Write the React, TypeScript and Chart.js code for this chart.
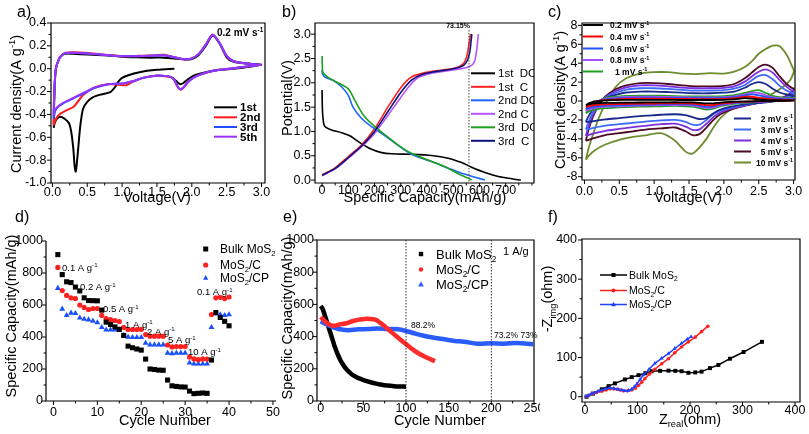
import React, { useEffect, useRef } from "react";
import { Chart, registerables } from "chart.js";

Chart.register(...registerables);

const FONT = '"Liberation Sans", Arial, Helvetica, sans-serif';

// ================= a) CV, 0.2 mV/s =================
const aCycleLabels = ["1st", "2nd", "3rd", "5th"];
const aColors = ["#000000", "#ff1a1a", "#1f4fff", "#9933ff"];
const a1V = [1.75, 1.5, 1.25, 1.1, 1.0, 0.95, 0.9, 0.83, 0.7, 0.58, 0.5, 0.44, 0.4, 0.37, 0.35, 0.335, 0.32, 0.3, 0.27, 0.24, 0.18, 0.11, 0.06, 0.03, 0.02,
  0.03, 0.05, 0.1, 0.15, 0.2, 0.3, 0.5, 0.8, 1.0, 1.2, 1.4, 1.6, 1.75, 1.9, 2.0, 2.1, 2.2, 2.3, 2.4, 2.5, 2.6, 2.8, 3.0,
  2.8, 2.6, 2.4, 2.2, 2.05, 1.95, 1.88, 1.83, 1.78, 1.72];
const a1I = [0.0, -0.01, -0.03, -0.055, -0.08, -0.11, -0.16, -0.205, -0.225, -0.25, -0.29, -0.35, -0.5, -0.7, -0.83, -0.9, -0.86, -0.7, -0.55, -0.48, -0.44, -0.42, -0.44, -0.48, -0.51,
  -0.2, 0.0, 0.09, 0.125, 0.132, 0.13, 0.125, 0.115, 0.105, 0.1, 0.097, 0.097, 0.09, 0.08, 0.085, 0.12, 0.2, 0.29, 0.22, 0.1, 0.06, 0.045, 0.035,
  0.015, 0.0, -0.01, -0.03, -0.055, -0.09, -0.125, -0.135, -0.11, -0.08];
const a2V = [3.0, 2.8, 2.6, 2.4, 2.2, 2.05, 1.95, 1.88, 1.84, 1.8, 1.75, 1.7, 1.6, 1.5, 1.3, 1.15, 1.05, 0.95, 0.8, 0.6, 0.45, 0.4, 0.35, 0.3, 0.2, 0.1, 0.06, 0.03, 0.02,
  0.03, 0.05, 0.1, 0.15, 0.2, 0.3, 0.5, 0.8, 1.0, 1.2, 1.4, 1.6, 1.75, 1.9, 2.0, 2.1, 2.2, 2.3, 2.4, 2.5, 2.6, 2.8, 3.0];
const a2I = [0.035, 0.02, 0.005, -0.01, -0.035, -0.07, -0.115, -0.165, -0.185, -0.16, -0.1, -0.075, -0.065, -0.062, -0.08, -0.115, -0.145, -0.14, -0.135, -0.165, -0.225, -0.26, -0.3, -0.335, -0.365, -0.4, -0.43, -0.47, -0.49,
  -0.2, 0.0, 0.09, 0.127, 0.14, 0.143, 0.137, 0.12, 0.11, 0.112, 0.115, 0.122, 0.1, 0.083, 0.09, 0.13, 0.21, 0.3, 0.22, 0.11, 0.065, 0.045, 0.035];
const a3V = [3.0, 2.8, 2.6, 2.4, 2.2, 2.05, 1.95, 1.88, 1.84, 1.8, 1.75, 1.7, 1.6, 1.5, 1.3, 1.15, 1.0, 0.8, 0.6, 0.45, 0.35, 0.25, 0.15, 0.08, 0.04, 0.02,
  0.03, 0.05, 0.1, 0.15, 0.2, 0.3, 0.5, 0.8, 1.0, 1.2, 1.4, 1.6, 1.75, 1.9, 2.0, 2.1, 2.2, 2.3, 2.4, 2.5, 2.6, 2.8, 3.0];
const a3I = [0.035, 0.02, 0.005, -0.01, -0.035, -0.07, -0.115, -0.165, -0.18, -0.16, -0.1, -0.072, -0.063, -0.06, -0.08, -0.11, -0.13, -0.135, -0.17, -0.215, -0.245, -0.275, -0.305, -0.335, -0.37, -0.43,
  -0.18, 0.0, 0.09, 0.125, 0.137, 0.14, 0.133, 0.118, 0.11, 0.11, 0.113, 0.118, 0.1, 0.083, 0.09, 0.13, 0.21, 0.295, 0.22, 0.11, 0.065, 0.045, 0.035];
const a5V = [3.0, 2.8, 2.6, 2.4, 2.2, 2.05, 1.95, 1.88, 1.84, 1.8, 1.75, 1.7, 1.6, 1.5, 1.3, 1.15, 1.0, 0.8, 0.6, 0.45, 0.35, 0.25, 0.15, 0.08, 0.04, 0.02,
  0.03, 0.05, 0.1, 0.15, 0.2, 0.3, 0.5, 0.8, 1.0, 1.2, 1.4, 1.6, 1.75, 1.9, 2.0, 2.1, 2.2, 2.3, 2.4, 2.5, 2.6, 2.8, 3.0];
const a5I = [0.035, 0.02, 0.005, -0.01, -0.035, -0.07, -0.115, -0.165, -0.18, -0.16, -0.1, -0.072, -0.063, -0.06, -0.08, -0.11, -0.13, -0.135, -0.165, -0.21, -0.24, -0.27, -0.3, -0.33, -0.36, -0.4,
  -0.17, 0.0, 0.09, 0.125, 0.137, 0.14, 0.133, 0.118, 0.11, 0.11, 0.113, 0.118, 0.1, 0.083, 0.09, 0.13, 0.21, 0.295, 0.225, 0.115, 0.065, 0.045, 0.035];

// ================= b) charge / discharge =================
const bLabels = ["1st  DC", "1st  C", "2nd DC", "2nd C", "3rd  DC", "3rd  C"];
const bColors = ["#000000", "#ff2020", "#1e64ff", "#b455ff", "#1fa01f", "#10107a"];
const b1DCx = [0, 1, 3, 10, 36, 74, 106, 138, 182, 227, 265, 341, 418, 481, 532, 570, 621, 672, 723, 758];
const b1DCy = [1.85, 1.5, 1.3, 1.11, 1.03, 0.975, 0.91, 0.79, 0.65, 0.565, 0.54, 0.53, 0.505, 0.45, 0.36, 0.265, 0.156, 0.074, 0.027, 0.0];
const b1Cx = [0, 48, 99, 150, 201, 252, 303, 341, 392, 455, 506, 538, 551, 560, 566];
const b1Cy = [0.11, 0.245, 0.48, 0.72, 1.06, 1.51, 1.92, 2.12, 2.21, 2.26, 2.3, 2.39, 2.53, 2.8, 3.0];
const b2DCx = [0, 2, 10, 42, 74, 99, 118, 150, 188, 227, 278, 341, 418, 481, 532, 583, 621];
const b2DCy = [2.26, 2.18, 2.12, 2.05, 1.92, 1.75, 1.5, 1.27, 1.1, 0.96, 0.76, 0.53, 0.38, 0.245, 0.14, 0.06, 0.0];
const b2Cx = [0, 50, 100, 150, 200, 250, 300, 340, 370, 420, 480, 540, 570, 582, 590, 596];
const b2Cy = [0.09, 0.23, 0.45, 0.68, 0.96, 1.32, 1.7, 1.98, 2.12, 2.2, 2.25, 2.3, 2.36, 2.45, 2.7, 3.0];
const b3DCx = [0, 1, 3, 20, 50, 99, 125, 157, 195, 240, 290, 341, 418, 481, 519, 557, 570];
const b3DCy = [2.55, 2.35, 2.22, 2.12, 2.03, 1.88, 1.64, 1.34, 1.13, 0.93, 0.72, 0.55, 0.38, 0.245, 0.13, 0.04, 0.0];
const b3Cx = [0, 50, 100, 150, 200, 250, 300, 340, 380, 430, 480, 530, 550, 562, 568, 571];
const b3Cy = [0.1, 0.24, 0.46, 0.7, 1.0, 1.4, 1.8, 2.05, 2.17, 2.23, 2.27, 2.33, 2.42, 2.6, 2.85, 3.0];
const bCEcapacity = 560;
const bCEtext = "73.15%";

// ================= c) CV at different rates =================
const cTopLabels = ["0.2 mV s^{-1}", "0.4 mV s^{-1}", "0.6 mV s^{-1}", "0.8 mV s^{-1}", "1 mV s^{-1}"];
const cTopColors = ["#000000", "#ff0000", "#2255ff", "#a64dff", "#20a020"];
const cBotLabels = ["2 mV s^{-1}", "3 mV s^{-1}", "4 mV s^{-1}", "5 mV s^{-1}", "10 mV s^{-1}"];
const cBotColors = ["#1a2a8c", "#3d6bff", "#7b2fe0", "#4d0a26", "#6e8b2d"];
const cVup = [0.02, 0.06, 0.12, 0.2, 0.3, 0.45, 0.6, 0.8, 1.0, 1.2, 1.4, 1.6, 1.8, 2.0, 2.15, 2.3, 2.4, 2.5, 2.6, 2.7, 2.8, 2.9, 2.97, 3.0];
const cVdown = [3.0, 2.95, 2.85, 2.7, 2.5, 2.3, 2.1, 1.95, 1.85, 1.75, 1.65, 1.55, 1.45, 1.3, 1.1, 0.9, 0.7, 0.5, 0.3, 0.15, 0.06, 0.02];
const cI02 = [-0.45, -0.25, -0.08, 0.0, 0.07, 0.1, 0.12, 0.13, 0.13, 0.12, 0.11, 0.11, 0.11, 0.12, 0.18, 0.3, 0.25, 0.18, 0.13, 0.1, 0.08, 0.07, 0.06, 0.06,
  0.05, 0.03, 0.01, 0.0, -0.02, -0.04, -0.09, -0.16, -0.24, -0.25, -0.19, -0.15, -0.14, -0.13, -0.14, -0.15, -0.16, -0.18, -0.2, -0.25, -0.35, -0.45];
const cI04 = [-0.65, -0.4, -0.15, 0.0, 0.12, 0.19, 0.23, 0.25, 0.25, 0.24, 0.22, 0.21, 0.21, 0.23, 0.3, 0.45, 0.45, 0.35, 0.25, 0.18, 0.14, 0.12, 0.11, 0.1,
  0.1, 0.06, 0.02, -0.01, -0.04, -0.08, -0.16, -0.28, -0.42, -0.44, -0.34, -0.27, -0.25, -0.24, -0.25, -0.27, -0.29, -0.32, -0.35, -0.42, -0.54, -0.65];
const cI06 = [-0.85, -0.55, -0.22, 0.0, 0.17, 0.27, 0.33, 0.35, 0.35, 0.33, 0.31, 0.3, 0.3, 0.32, 0.4, 0.58, 0.7, 0.6, 0.42, 0.3, 0.22, 0.19, 0.17, 0.16,
  0.15, 0.09, 0.03, -0.02, -0.06, -0.12, -0.22, -0.36, -0.55, -0.6, -0.48, -0.38, -0.35, -0.33, -0.35, -0.37, -0.4, -0.44, -0.48, -0.58, -0.72, -0.85];
const cI08 = [-1.05, -0.7, -0.3, 0.0, 0.22, 0.35, 0.43, 0.46, 0.45, 0.43, 0.4, 0.38, 0.38, 0.41, 0.5, 0.7, 0.88, 0.85, 0.6, 0.4, 0.3, 0.25, 0.23, 0.22,
  0.2, 0.12, 0.04, -0.02, -0.08, -0.15, -0.27, -0.45, -0.68, -0.75, -0.6, -0.48, -0.44, -0.42, -0.44, -0.46, -0.5, -0.55, -0.6, -0.72, -0.9, -1.05];
const cI1 = [-1.3, -0.9, -0.4, 0.0, 0.3, 0.45, 0.55, 0.58, 0.57, 0.54, 0.5, 0.48, 0.48, 0.52, 0.62, 0.85, 1.05, 1.15, 0.85, 0.55, 0.4, 0.33, 0.3, 0.28,
  0.25, 0.15, 0.05, -0.02, -0.1, -0.2, -0.35, -0.55, -0.8, -0.9, -0.75, -0.6, -0.55, -0.52, -0.55, -0.58, -0.62, -0.68, -0.75, -0.9, -1.1, -1.3];
const cI2 = [-2.2, -1.6, -0.9, -0.25, 0.3, 0.65, 0.9, 1.0, 1.0, 0.95, 0.88, 0.82, 0.82, 0.88, 1.0, 1.4, 1.8, 2.0, 1.8, 1.3, 0.9, 0.7, 0.6, 0.55,
  0.5, 0.3, 0.1, -0.05, -0.2, -0.35, -0.6, -0.9, -1.3, -1.8, -1.9, -1.7, -1.5, -1.4, -1.45, -1.55, -1.65, -1.8, -1.95, -2.1, -2.2, -2.2];
const cI3 = [-3.0, -2.2, -1.2, -0.35, 0.35, 0.85, 1.2, 1.35, 1.35, 1.28, 1.18, 1.1, 1.1, 1.15, 1.3, 1.7, 2.2, 2.65, 2.75, 2.3, 1.6, 1.1, 0.9, 0.8,
  0.75, 0.5, 0.2, 0.0, -0.2, -0.4, -0.7, -1.0, -1.4, -2.0, -2.5, -2.5, -2.2, -2.0, -2.05, -2.15, -2.3, -2.45, -2.6, -2.8, -2.95, -3.0];
const cI4 = [-3.7, -2.7, -1.5, -0.45, 0.4, 1.05, 1.45, 1.65, 1.65, 1.55, 1.42, 1.35, 1.35, 1.4, 1.55, 2.05, 2.6, 3.1, 3.35, 3.0, 2.2, 1.5, 1.15, 1.05,
  1.0, 0.65, 0.3, 0.05, -0.2, -0.45, -0.8, -1.2, -1.7, -2.4, -3.0, -3.05, -2.7, -2.4, -2.45, -2.6, -2.75, -2.95, -3.15, -3.4, -3.6, -3.7];
const cI5 = [-4.2, -3.0, -1.7, -0.5, 0.5, 1.25, 1.65, 1.9, 1.9, 1.8, 1.65, 1.55, 1.55, 1.6, 1.8, 2.4, 3.0, 3.6, 3.85, 3.5, 2.6, 1.8, 1.4, 1.3,
  1.2, 0.8, 0.4, 0.1, -0.2, -0.5, -0.9, -1.4, -2.0, -2.8, -3.5, -3.6, -3.2, -2.8, -2.9, -3.0, -3.2, -3.4, -3.6, -3.9, -4.1, -4.2];
const cI10 = [-6.2, -5.0, -3.6, -1.9, -0.3, 1.5, 2.4, 2.9, 3.05, 3.05, 2.9, 2.85, 2.95, 2.9, 3.1, 3.6, 4.2, 5.0, 5.5, 5.85, 5.8, 4.9, 3.8, 3.3,
  3.0, 2.2, 1.5, 0.8, 0.2, -0.3, -0.9, -1.8, -2.8, -4.0, -4.9, -5.55, -5.35, -4.2, -3.4, -3.6, -3.8, -4.1, -4.6, -5.2, -5.8, -6.2];

// ================= d) rate capability =================
const dSeries = ["Bulk MoS_{2}", "MoS_{2}/C", "MoS_{2}/CP"];
const dColors = ["#000000", "#ff2020", "#1a4fff"];
const dCycles = [1, 2, 3, 4, 5, 6, 7, 8, 9, 10, 11, 12, 13, 14, 15, 16, 17, 18, 19, 20, 21, 22, 23, 24, 25, 26, 27, 28, 29, 30, 31, 32, 33, 34, 35, 36, 37, 38, 39, 40];
const dBulk = [915, 790, 745, 740, 712, 688, 645, 628, 627, 626, 568, 493, 478, 463, 448, 410, 343, 333, 325, 318, 262, 200, 197, 193, 192, 131, 95, 91, 88, 87, 62, 46, 48, 50, 48, 256, 553, 522, 498, 470];
const dC = [835, 690, 660, 645, 640, 600, 585, 572, 578, 578, 535, 515, 508, 503, 497, 460, 447, 447, 447, 448, 415, 405, 405, 405, 405, 350, 338, 340, 340, 340, 275, 263, 258, 263, 262, 540, 645, 648, 640, 650];
const dCP = [705, 575, 535, 550, 548, 520, 512, 508, 500, 490, 460, 445, 445, 445, 445, 410, 400, 398, 398, 398, 362, 352, 352, 352, 352, 300, 297, 300, 300, 300, 238, 232, 232, 232, 232, 460, 545, 540, 535, 540];
const dRateText = ["0.1 A g^{-1}", "0.2 A g^{-1}", "0.5 A g^{-1}", "1 A g^{-1}", "2 A g^{-1}", "5 A g^{-1}", "10 A g^{-1}", "0.1 A g^{-1}"];

// ================= e) cycling at 1 A/g =================
const eBulkX = [0, 2, 5, 8, 11, 14, 17, 20, 23, 26, 29, 33, 37, 42, 48, 55, 62, 70, 78, 86, 94, 100];
const eBulkY = [590, 575, 530, 480, 430, 380, 330, 290, 255, 228, 205, 182, 163, 148, 135, 122, 112, 102, 96, 92, 90, 89];
const eCX = [0, 5, 10, 15, 22, 30, 38, 48, 58, 64, 70, 78, 88, 98, 106, 114, 124, 134];
const eCY = [522, 495, 475, 468, 475, 483, 497, 508, 510, 505, 485, 450, 405, 362, 328, 298, 270, 248];
const eCPX = [0, 10, 21, 32, 44, 56, 67, 79, 91, 100, 110, 122, 133, 145, 157, 168, 184, 199, 215, 230, 249];
const eCPY = [495, 468, 447, 440, 445, 447, 451, 447, 445, 435, 420, 404, 393, 383, 373, 368, 356, 358, 356, 360, 352];
const eMarks = [100, 200];
const eNotes = ["88.2%", "73.2% 73%", "1 A/g"];

// ================= f) EIS =================
const fBulkX = [3, 15, 32, 45, 57, 76, 89, 102, 115, 127, 143, 159, 172, 184, 197, 210, 222, 238, 254, 276, 302, 337];
const fBulkY = [0, 8, 19, 27, 34, 44, 50, 55, 60, 65, 66, 66.5, 66, 65, 61, 62, 64, 73, 81, 97, 114, 140];
const fCX = [3, 8, 15, 22, 32, 40, 48, 55, 61, 67, 73, 81, 89, 96, 102, 108, 114, 123, 133, 146, 159, 171, 184, 197, 210, 222, 234];
const fCY = [1, 4, 8, 11, 14, 17, 20, 20, 19, 17, 15, 15, 17, 22, 29, 37, 46, 58, 70, 84, 97, 112, 127, 140, 152, 166, 180];
const fCPX = [2, 6, 12, 18, 25, 32, 40, 48, 55, 63, 70, 76, 83, 89, 94, 99, 105, 111, 122, 133, 146, 159, 171, 184, 195, 202];
const fCPY = [1, 3, 7, 10, 14, 17, 20, 23, 21, 19, 17, 15, 16, 19, 25, 33, 44, 55, 70, 85, 98, 110, 123, 136, 147, 153];

// ================= helpers =================
const zip = (xs: number[], ys: number[]) => xs.map((x, i) => ({ x, y: ys[i] }));
const range = (a: number, b: number, s: number) => {
  const out: number[] = [];
  for (let k = Math.round(a / s); k <= Math.round(b / s); k++) out.push(+(k * s).toFixed(6));
  return out;
};

const line = (xs: number[], ys: number[], color: string, width: number, tension = 0.3) => ({
  data: zip(xs, ys), showLine: true, borderColor: color, backgroundColor: color,
  borderWidth: width, pointRadius: 0, tension, fill: false,
});
const pts = (xs: number[], ys: number[], color: string, style: string, r: number) => ({
  data: zip(xs, ys), showLine: false, pointStyle: style, pointRadius: r,
  pointBackgroundColor: color, pointBorderColor: color, pointBorderWidth: 0,
  backgroundColor: color, borderColor: color,
});
const linePts = (xs: number[], ys: number[], color: string, style: string, r: number, w: number) => ({
  ...line(xs, ys, color, w, 0), pointStyle: style, pointRadius: r,
  pointBackgroundColor: color, pointBorderColor: color, pointBorderWidth: 0,
});

type Seg = [string, number];
function parseRich(s: string): Seg[] {
  const out: Seg[] = [];
  let buf = "";
  let i = 0;
  while (i < s.length) {
    if ((s[i] === "^" || s[i] === "_") && s[i + 1] === "{") {
      if (buf) { out.push([buf, 0]); buf = ""; }
      const end = s.indexOf("}", i);
      out.push([s.slice(i + 2, end), s[i] === "^" ? 1 : -1]);
      i = end + 1;
    } else { buf += s[i]; i++; }
  }
  if (buf) out.push([buf, 0]);
  return out;
}

function txt(ctx: CanvasRenderingContext2D, s: string, x: number, y: number, size: number,
  o: { align?: string; bold?: boolean; rot?: boolean; color?: string } = {}) {
  const segs = parseRich(s);
  const wt = o.bold ? "bold " : "";
  const small = size * 0.64;
  ctx.save();
  ctx.fillStyle = o.color || "#000";
  ctx.textBaseline = "alphabetic";
  ctx.textAlign = "left";
  let total = 0;
  const widths = segs.map(([t, k]) => {
    ctx.font = `${wt}${k ? small : size}px ${FONT}`;
    const w = ctx.measureText(t).width;
    total += w;
    return w;
  });
  ctx.translate(x, y);
  if (o.rot) ctx.rotate(-Math.PI / 2);
  let cx = o.align === "center" ? -total / 2 : o.align === "right" ? -total : 0;
  const base = size * 0.36;
  segs.forEach(([t, k], i) => {
    ctx.font = `${wt}${k ? small : size}px ${FONT}`;
    const dy = k === 1 ? -size * 0.4 : k === -1 ? size * 0.24 : 0;
    ctx.fillText(t, cx, base + dy);
    cx += widths[i];
  });
  ctx.restore();
}

function seg(ctx: CanvasRenderingContext2D, x1: number, x2: number, y: number, color: string, w: number) {
  ctx.save();
  ctx.strokeStyle = color; ctx.lineWidth = w;
  ctx.beginPath(); ctx.moveTo(x1, y); ctx.lineTo(x2, y); ctx.stroke();
  ctx.restore();
}

function mark(ctx: CanvasRenderingContext2D, kind: string, x: number, y: number, r: number, color: string) {
  ctx.save();
  ctx.fillStyle = color;
  ctx.beginPath();
  if (kind === "rect") ctx.rect(x - r, y - r, 2 * r, 2 * r);
  else if (kind === "circle") ctx.arc(x, y, r, 0, Math.PI * 2);
  else { ctx.moveTo(x, y - r * 1.15); ctx.lineTo(x + r, y + r * 0.7); ctx.lineTo(x - r, y + r * 0.7); ctx.closePath(); }
  ctx.fill();
  ctx.restore();
}

function vdash(ctx: CanvasRenderingContext2D, x: number, y1: number, y2: number, color: string) {
  ctx.save();
  ctx.setLineDash([1.5, 1.5]);
  ctx.strokeStyle = color; ctx.lineWidth = 1;
  ctx.beginPath(); ctx.moveTo(x, y1); ctx.lineTo(x, y2); ctx.stroke();
  ctx.restore();
}

interface Axis { min: number; max: number; major: number[]; minor: number; fmt: (v: number) => string; pad: number; }
interface Panel {
  id: string; left: number; top: number; w: number; h: number;
  area: number[];
  x: Axis; y: Axis; box: boolean;
  datasets: any[];
  tag: [string, number, number];
  xt: [string, number, number];
  yt: [string, number, number];
  deco: (ctx: CanvasRenderingContext2D, X: (v: number) => number, Y: (v: number) => number, A: any) => void;
}

const f1 = (v: number) => v.toFixed(1);
const f0 = (v: number) => String(Math.round(v));

const PANELS: Panel[] = [
  {
    id: "a", left: 0, top: 0, w: 270, h: 212, area: [51, 23, 265, 183], box: true,
    x: { min: -0.02, max: 3.05, major: range(0, 3, 0.5), minor: 0.25, fmt: f1, pad: 2.5 },
    y: { min: -1.0, max: 0.4, major: range(-1, 0.4, 0.2), minor: 0.1, fmt: f1, pad: 4.5 },
    datasets: [
      line(a5V, a5I, aColors[3], 2),
      line(a3V, a3I, aColors[2], 2),
      line(a2V, a2I, aColors[1], 2),
      line(a1V, a1I, aColors[0], 2, 0.25),
    ],
    tag: ["a)", 17, 11], xt: ["Voltage(V)", 157, 196.5], yt: ["Current density(A g^{-1})", 16, 104],
    deco: (ctx) => {
      txt(ctx, "0.2 mV s^{-1}", 217, 32, 10, { bold: true });
      const rows = [107.3, 117.3, 127, 136.7];
      aCycleLabels.forEach((l, i) => { seg(ctx, 214, 237, rows[i], aColors[i], 2); txt(ctx, l, 240, rows[i], 11.5, { bold: true }); });
    },
  },
  {
    id: "b", left: 270, top: 0, w: 270, h: 212, area: [315, 23, 534, 183], box: true,
    x: { min: -27, max: 808, major: range(0, 700, 100), minor: 50, fmt: f0, pad: 0.5 },
    y: { min: -0.06, max: 3.23, major: range(0, 3, 0.5), minor: 0.25, fmt: f1, pad: 4 },
    datasets: [
      line(b3Cx, b3Cy, bColors[5], 1.6),
      line(b3DCx, b3DCy, bColors[4], 1.6),
      line(b2Cx, b2Cy, bColors[3], 1.6),
      line(b2DCx, b2DCy, bColors[2], 1.6),
      line(b1Cx, b1Cy, bColors[1], 1.6),
      line(b1DCx, b1DCy, bColors[0], 1.6),
    ],
    tag: ["b)", 282, 11], xt: ["Specific Capacity(mAh/g)", 425, 196.5], yt: ["Potential(V)", 286.5, 98],
    deco: (ctx, X, Y, A) => {
      vdash(ctx, X(bCEcapacity), A.t + 7, A.b, "#444");
      txt(ctx, bCEtext, X(bCEcapacity) + 1, 25.5, 7, { bold: true, align: "right" });
      ctx.save();
      ctx.beginPath(); ctx.rect(A.l, A.t, A.r - A.l, A.b - A.t); ctx.clip();
      const rows = [73.3, 86.8, 100.3, 113.8, 127.3, 140.8];
      bLabels.forEach((l, i) => { seg(ctx, 471, 495, rows[i], bColors[i], 2); txt(ctx, l, 498, rows[i], 11.5); });
      ctx.restore();
    },
  },
  {
    id: "c", left: 540, top: 0, w: 269, h: 212, area: [582, 23, 795, 180], box: true,
    x: { min: -0.035, max: 3.02, major: range(0, 3, 0.5), minor: 0.25, fmt: f1, pad: 4 },
    y: { min: -8.35, max: 8.25, major: range(-8, 8, 2), minor: 1, fmt: f0, pad: 4.5 },
    datasets: [
      line([...cVup, ...cVdown], cI02, cTopColors[0], 1.8),
      line([...cVup, ...cVdown], cI04, cTopColors[1], 1.8),
      line([...cVup, ...cVdown], cI06, cTopColors[2], 1.8),
      line([...cVup, ...cVdown], cI08, cTopColors[3], 1.8),
      line([...cVup, ...cVdown], cI1, cTopColors[4], 1.8),
      line([...cVup, ...cVdown], cI2, cBotColors[0], 1.8),
      line([...cVup, ...cVdown], cI3, cBotColors[1], 1.8),
      line([...cVup, ...cVdown], cI4, cBotColors[2], 1.8),
      line([...cVup, ...cVdown], cI5, cBotColors[3], 1.8),
      line([...cVup, ...cVdown], cI10, cBotColors[4], 1.8),
    ],
    tag: ["c)", 548, 11], xt: ["Voltage(V)", 688, 196.5], yt: ["Current density(A g^{-1})", 560, 100],
    deco: (ctx) => {
      const top = [25, 36.5, 48.5, 60, 71.5];
      cTopLabels.forEach((l, i) => {
        seg(ctx, 583, 603, top[i], cTopColors[i], 2);
        txt(ctx, l, i === 4 ? 615 : 610, top[i], 8.5, { bold: true });
      });
      const bot = [118.5, 129.5, 140.5, 151.5, 162.5];
      cBotLabels.forEach((l, i) => {
        seg(ctx, 734, 751, bot[i], cBotColors[i], 2);
        txt(ctx, l, 793, bot[i], 8.5, { bold: true, align: "right" });
      });
    },
  },
  {
    id: "d", left: 0, top: 205, w: 290, h: 229, area: [46, 241, 276, 401], box: false,
    x: { min: -1.7, max: 50.7, major: range(0, 50, 10), minor: 5, fmt: f0, pad: 4 },
    y: { min: 0, max: 1000, major: range(0, 1000, 200), minor: 100, fmt: f0, pad: 3 },
    datasets: [
      pts(dCycles, dBulk, dColors[0], "rect", 3.6),
      pts(dCycles, dC, dColors[1], "circle", 2.6),
      pts(dCycles, dCP, dColors[2], "triangle", 3.4),
    ],
    tag: ["d)", 15, 216], xt: ["Cycle Number", 165, 420], yt: ["Specific Capacity(mAh/g)", 11, 316],
    deco: (ctx) => {
      const rows = [249, 265, 278];
      const kinds = ["rect", "circle", "triangle"];
      dSeries.forEach((l, i) => { mark(ctx, kinds[i], 205.7, rows[i], i === 0 ? 2.5 : 2.6, dColors[i]); txt(ctx, l, 220, rows[i], 12); });
      const pos = [[62, 267.5], [80, 287], [103, 309], [125, 324.5], [147, 331.5], [168, 340], [188, 352], [197, 292]];
      dRateText.forEach((t, i) => txt(ctx, t, pos[i][0], pos[i][1], 9.5));
    },
  },
  {
    id: "e", left: 270, top: 205, w: 270, h: 229, area: [317, 240, 534, 401], box: true,
    x: { min: -4.3, max: 250, major: range(0, 250, 50), minor: 25, fmt: f0, pad: 0.5 },
    y: { min: 0, max: 1000, major: range(0, 1000, 200), minor: 100, fmt: f0, pad: 3 },
    datasets: [
      line(eCX, eCY, "#ff2a2a", 4.5, 0.4),
      line(eCPX, eCPY, "#2a5cff", 4.5, 0.4),
      line(eBulkX, eBulkY, "#000000", 4.5, 0.4),
    ],
    tag: ["e)", 283, 216], xt: ["Cycle Number", 440, 420], yt: ["Specific Capacity(mAh/g)", 287, 318],
    deco: (ctx, X, Y, A) => {
      eMarks.forEach((m) => vdash(ctx, X(m), A.t, A.b, "#333"));
      const rows = [254, 269.5, 284.5];
      const kinds = ["rect", "circle", "triangle"];
      const cols = ["#000000", "#ff2a2a", "#2a5cff"];
      dSeries.forEach((l, i) => { mark(ctx, kinds[i], 421, rows[i], i === 2 ? 2.8 : 2.2, cols[i]); txt(ctx, l, 436, rows[i], 13); });
      txt(ctx, eNotes[0], 411, 325, 8.5);
      txt(ctx, eNotes[1], 494, 335, 8.5);
      txt(ctx, eNotes[2], 503, 251, 11);
    },
  },
  {
    id: "f", left: 540, top: 205, w: 269, h: 229, area: [582, 239, 800, 402], box: true,
    x: { min: -5.7, max: 409.5, major: range(0, 400, 100), minor: 50, fmt: f0, pad: 1 },
    y: { min: -13.5, max: 402.5, major: range(0, 400, 100), minor: 50, fmt: f0, pad: 5 },
    datasets: [
      linePts(fCPX, fCPY, "#2040ff", "triangle", 2.4, 1.5),
      linePts(fCX, fCY, "#ff2020", "circle", 1.8, 1.5),
      linePts(fBulkX, fBulkY, "#000000", "rect", 2.8, 1.5),
    ],
    tag: ["f)", 548, 216], xt: ["Z_{real}(ohm)", 690, 418.5], yt: ["-Z_{img}(ohm)", 547, 299],
    deco: (ctx) => {
      const rows = [275, 290.5, 304.5];
      const kinds = ["rect", "circle", "triangle"];
      const cols = ["#000000", "#ff2020", "#2040ff"];
      dSeries.forEach((l, i) => {
        seg(ctx, 600, 627, rows[i], cols[i], 1.5);
        mark(ctx, kinds[i], 613.5, rows[i], i === 2 ? 2.4 : 2, cols[i]);
        txt(ctx, l, 629, rows[i], 10.5);
      });
    },
  },
];

function makeChart(canvas: HTMLCanvasElement, p: Panel) {
  const L = p.area[0] - p.left, T = p.area[1] - p.top, R = p.area[2] - p.left, B = p.area[3] - p.top;
  const scale = (a: Axis, isX: boolean) => ({
    type: "linear", min: a.min, max: a.max,
    afterBuildTicks: (s: any) => { s.ticks = a.major.map((v) => ({ value: v })); },
    afterFit: (s: any) => {
      if (isX) { s.height = p.h - B; s.paddingLeft = 0; s.paddingRight = 0; }
      else { s.width = L; s.paddingTop = 0; s.paddingBottom = 0; }
    },
    ticks: {
      autoSkip: false, maxRotation: 0, minRotation: 0, padding: a.pad, color: "#000",
      font: { family: FONT, size: 12.5 }, callback: (v: any) => a.fmt(Number(v)),
    },
    grid: { display: false, drawTicks: false },
    border: { display: false },
  });
  const deco = {
    id: "deco_" + p.id,
    afterDraw(chart: any) {
      const ctx: CanvasRenderingContext2D = chart.ctx;
      const xs = chart.scales.x, ys = chart.scales.y;
      const X = (v: number) => xs.getPixelForValue(v) + p.left;
      const Y = (v: number) => ys.getPixelForValue(v) + p.top;
      const ca = chart.chartArea;
      const A = { l: ca.left + p.left, t: ca.top + p.top, r: ca.right + p.left, b: ca.bottom + p.top };
      ctx.save();
      ctx.translate(-p.left, -p.top);
      ctx.strokeStyle = "#000";
      ctx.lineWidth = 1.2;
      ctx.beginPath();
      if (p.box) ctx.rect(A.l, A.t, A.r - A.l, A.b - A.t);
      else { ctx.moveTo(A.l, A.t); ctx.lineTo(A.l, A.b); ctx.lineTo(A.r, A.b); }
      ctx.stroke();
      ctx.lineWidth = 1;
      ctx.beginPath();
      const isMajor = (arr: number[], v: number, st: number) => arr.some((m) => Math.abs(m - v) < st * 0.01);
      p.x.major.forEach((v) => { const px = X(v); ctx.moveTo(px, A.b); ctx.lineTo(px, A.b + 4); });
      range(Math.ceil(p.x.min / p.x.minor) * p.x.minor, Math.floor(p.x.max / p.x.minor) * p.x.minor, p.x.minor).forEach((v) => {
        if (isMajor(p.x.major, v, p.x.minor)) return;
        const px = X(v); ctx.moveTo(px, A.b); ctx.lineTo(px, A.b + 2.5);
      });
      p.y.major.forEach((v) => { const py = Y(v); ctx.moveTo(A.l, py); ctx.lineTo(A.l - 4, py); });
      range(Math.ceil(p.y.min / p.y.minor) * p.y.minor, Math.floor(p.y.max / p.y.minor) * p.y.minor, p.y.minor).forEach((v) => {
        if (isMajor(p.y.major, v, p.y.minor)) return;
        const py = Y(v); ctx.moveTo(A.l, py); ctx.lineTo(A.l - 2.5, py);
      });
      ctx.stroke();
      txt(ctx, p.tag[0], p.tag[1], p.tag[2], 16);
      txt(ctx, p.xt[0], p.xt[1], p.xt[2], 14.5, { align: "center" });
      txt(ctx, p.yt[0], p.yt[1], p.yt[2], 14.5, { align: "center", rot: true });
      p.deco(ctx, X, Y, A);
      ctx.restore();
    },
  };
  return new Chart(canvas, {
    type: "scatter",
    data: { datasets: p.datasets },
    options: {
      responsive: false,
      animation: false,
      devicePixelRatio: 1,
      events: [],
      layout: { autoPadding: false, padding: { left: 0, top: T, right: p.w - R, bottom: 0 } },
      plugins: { legend: { display: false }, tooltip: { enabled: false } },
      scales: { x: scale(p.x, true), y: scale(p.y, false) },
    },
    plugins: [deco],
  } as any);
}

function PanelCanvas({ p }: { p: Panel }) {
  const ref = useRef<HTMLCanvasElement>(null);
  useEffect(() => {
    const chart = makeChart(ref.current as HTMLCanvasElement, p);
    return () => chart.destroy();
  }, []);
  return (
    <canvas
      ref={ref}
      width={p.w}
      height={p.h}
      style={{ position: "absolute", left: p.left, top: p.top, width: p.w, height: p.h }}
    />
  );
}

export default function App() {
  return (
    <div style={{ position: "absolute", left: 0, top: 0, width: 809, height: 434, background: "#fff", overflow: "hidden" }}>
      {PANELS.map((p) => <PanelCanvas key={p.id} p={p} />)}
    </div>
  );
}
